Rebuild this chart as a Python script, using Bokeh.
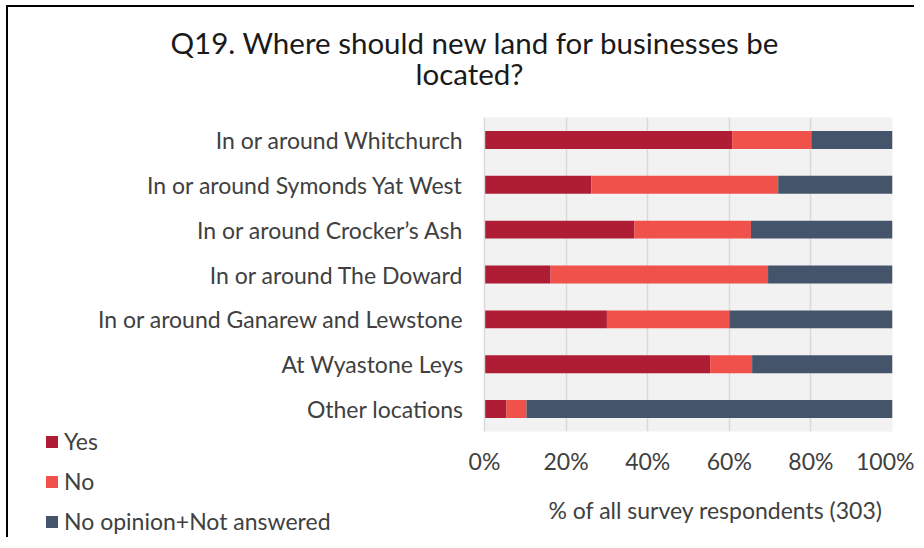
from bokeh.plotting import figure
from bokeh.models import ColumnDataSource, Legend, LegendItem, Title, NumeralTickFormatter, FactorRange
from bokeh.embed import file_html
from bokeh.resources import INLINE

categories = [
    "In or around Whitchurch",
    "In or around Symonds Yat West",
    "In or around Crocker\u2019s Ash",
    "In or around The Doward",
    "In or around Ganarew and Lewstone",
    "At Wyastone Leys",
    "Other locations",
]
yes = [0.607, 0.262, 0.367, 0.162, 0.300, 0.553, 0.054]
no = [0.194, 0.458, 0.286, 0.533, 0.300, 0.103, 0.049]
no_opinion = [0.199, 0.280, 0.347, 0.305, 0.400, 0.344, 0.897]
series = ["yes", "no", "no_opinion"]
series_labels = ["Yes", "No", "No opinion+Not answered"]
colors = ["#AF1D34", "#F0514B", "#44546A"]
x_ticks = [0, 0.2, 0.4, 0.6, 0.8, 1.0]
title_lines = ["Q19. Where should new land for businesses be", "located?"]
x_title = "% of all survey respondents (303)"

source = ColumnDataSource(dict(cat=categories, yes=yes, no=no, no_opinion=no_opinion))

FONT = "Lato"
TXT = "#404040"
FS = "23px"

p = figure(
    width=908, height=532,
    y_range=FactorRange(*reversed(categories)),
    x_range=(0, 1),
    output_backend="svg", toolbar_location=None, title=None,
    min_border_left=476, min_border_right=24, min_border_top=110, min_border_bottom=103,
)
p.background_fill_color = "#F2F2F2"
p.border_fill_color = "white"
p.outline_line_color = None
p.styles = {"border-left": "2px solid black", "border-top": "2px solid black",
            "margin-left": "6px", "margin-top": "5px"}

renderers = p.hbar_stack(series, y="cat", height=0.4, color=colors, source=source, line_color=None)

p.xaxis.ticker = x_ticks
p.xaxis.formatter = NumeralTickFormatter(format="0%")
p.xaxis.major_label_text_font = FONT
p.xaxis.major_label_text_font_size = FS
p.xaxis.major_label_text_color = TXT
p.xaxis.major_label_standoff = 15
p.xaxis.axis_line_color = None
p.xaxis.major_tick_line_color = None
p.xaxis.minor_tick_line_color = None
p.xaxis.major_tick_out = 0
p.xaxis.major_tick_in = 0

p.yaxis.major_label_text_font = FONT
p.yaxis.major_label_text_font_size = FS
p.yaxis.major_label_text_color = TXT
p.yaxis.major_label_standoff = 21
p.yaxis.axis_line_color = "#D9D9D9"
p.yaxis.axis_line_width = 1.5
p.yaxis.major_tick_line_color = None
p.yaxis.minor_tick_line_color = None
p.yaxis.major_tick_out = 0
p.yaxis.major_tick_in = 0

p.xgrid.grid_line_color = "#D9D9D9"
p.xgrid.grid_line_width = 1.5
p.ygrid.grid_line_color = None
p.y_range.range_padding = 0

# titles (above): nearest to frame first
p.add_layout(Title(text=title_lines[1], align="left", offset=-69, standoff=54,
                   text_font=FONT, text_font_size="29.5px", text_font_style="normal",
                   text_color="#1a1a1a"), "above")
p.add_layout(Title(text=title_lines[0], align="left", offset=-314, standoff=-66,
                   text_font=FONT, text_font_size="29.5px", text_font_style="normal",
                   text_color="#1a1a1a"), "above")

# axis title (below)
p.add_layout(Title(text=x_title, align="left", offset=64, standoff=32,
                   text_font=FONT, text_font_size=FS, text_font_style="normal",
                   text_color=TXT), "below")

# legend: a small transparent figure laid over the lower-left corner,
# the legend sits in its left side panel (never clipped); its bars fall outside its range
lg = figure(width=340, height=118, y_range=FactorRange(*categories), x_range=(5, 6),
            output_backend="svg", toolbar_location=None, title=None,
            x_axis_location=None, y_axis_location=None,
            min_border_left=0, min_border_right=0, min_border_top=0, min_border_bottom=0)
lg.grid.visible = False
lg.outline_line_color = None
lg.background_fill_alpha = 0
lg.border_fill_alpha = 0
lg_renderers = lg.hbar_stack(series, y="cat", height=0.4, color=colors, source=source, line_color=None)
legend = Legend(
    items=[LegendItem(label=l, renderers=[r]) for l, r in zip(series_labels, lg_renderers)],
    location="top_left", orientation="vertical",
    background_fill_alpha=0, border_line_color=None,
    label_text_font=FONT, label_text_font_size=FS, label_text_color=TXT,
    glyph_width=15, glyph_height=15, label_height=25, spacing=12,
    padding=0, margin=0, label_standoff=5,
)
lg.add_layout(legend, "left")
lg.styles = {"position": "absolute", "left": "44px", "top": "427px"}

open("out.html", "w").write(file_html([p, lg], INLINE))
